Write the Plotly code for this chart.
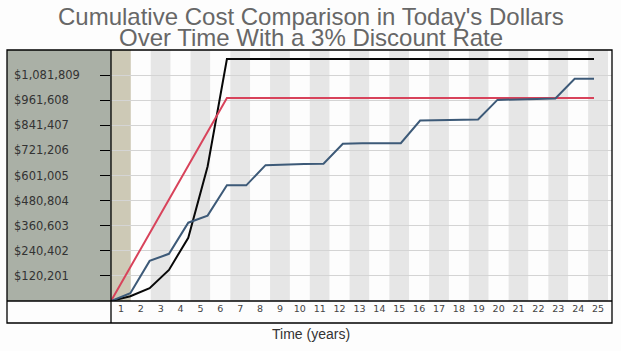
import plotly.graph_objects as go

# ---------------- data ----------------
years = [0, 1, 2, 3, 4, 5, 6, 7, 8, 9, 10, 11, 12, 13, 14, 15, 16, 17, 18, 19, 20, 21, 22, 23, 24, 25]

black_vals = [0, 23000, 61000, 149000, 303000, 644000, 1158700, 1158700, 1158700, 1158700,
              1158700, 1158700, 1158700, 1158700, 1158700, 1158700, 1158700, 1158700, 1158700,
              1158700, 1158700, 1158700, 1158700, 1158700, 1158700, 1158700]

red_vals = [0, 162000, 324000, 486000, 648000, 810000, 972000, 972000, 972000, 972000,
            972000, 972000, 972000, 972000, 972000, 972000, 972000, 972000, 972000,
            972000, 972000, 972000, 972000, 972000, 972000, 972000]

blue_vals = [0, 37000, 192000, 226000, 375000, 409000, 554000, 554000, 650500, 654000,
             656000, 657000, 753000, 755000, 756000, 756000, 864000, 864500, 865000,
             869000, 963000, 965000, 966000, 970000, 1064000, 1064000]

band_nums = [1, 2, 3, 4, 5, 6, 7, 8, 9, 10, 11, 12, 13, 14, 15, 16, 17, 18, 19, 20, 21, 22, 23, 24, 25]
band_labels = ["1", "2", "3", "4", "5", "6", "7", "8", "9", "10", "11", "12", "13",
               "14", "15", "16", "17", "18", "19", "20", "21", "22", "23", "24", "25"]

y_tick_vals = [120201, 240402, 360603, 480804, 601005, 721206, 841407, 961608, 1081809]
y_tick_text = ["$120,201", "$240,402", "$360,603", "$480,804", "$601,005",
               "$721,206", "$841,407", "$961,608", "$1,081,809"]
y_max = 1202010

title_lines = ["Cumulative Cost Comparison in Today's Dollars",
               "Over Time With a 3% Discount Rate"]
x_title = "Time (years)"

# ---------------- geometry (pixels) ----------------
W, H = 621, 351
PL, PR, PT, PB = 111, 612, 50, 301
BOX_L, BOX_B = 7, 323
pw, ph = PR - PL, PB - PT


def px_x(p):
    return (p - PL) / pw


def px_y(p):
    return (PB - p) / ph


TAN = "#cdc9b6"
GRAY = "#e6e6e6"
WHITE = "#fdfdfd"
PANEL = "#aab0a6"

fig = go.Figure()

# invisible trace anchoring the band (label) axis
fig.add_trace(go.Scatter(x=band_nums, y=[0] * len(band_nums), mode="none",
                         hoverinfo="skip", showlegend=False, xaxis="x", yaxis="y"))

fig.add_trace(go.Scatter(x=years, y=black_vals, mode="lines", xaxis="x2", yaxis="y",
                         line=dict(color="#080808", width=2), showlegend=False))
fig.add_trace(go.Scatter(x=years, y=red_vals, mode="lines", xaxis="x2", yaxis="y",
                         line=dict(color="#d8435b", width=2), showlegend=False))
fig.add_trace(go.Scatter(x=years, y=blue_vals, mode="lines", xaxis="x2", yaxis="y",
                         line=dict(color="#3d5a78", width=2), showlegend=False))

shapes = []
# alternating background bands
for i, n in enumerate(band_nums):
    if i == 0:
        col = TAN
    elif n % 2 == 0:
        col = WHITE
    else:
        col = GRAY
    shapes.append(dict(type="rect", xref="x", yref="y", x0=n - 0.5, x1=n + 0.5,
                       y0=0, y1=y_max * 1.01, fillcolor=col, line=dict(width=0),
                       layer="below"))

# left axis panel
shapes.append(dict(type="rect", xref="paper", yref="paper", x0=px_x(BOX_L), x1=0,
                   y0=0, y1=1, fillcolor=PANEL, line=dict(width=0), layer="below"))
# outer frame and dividers
shapes.append(dict(type="rect", xref="paper", yref="paper", x0=px_x(BOX_L), x1=1,
                   y0=px_y(BOX_B), y1=1, line=dict(color="black", width=1.3), layer="above"))
shapes.append(dict(type="line", xref="paper", yref="paper", x0=px_x(BOX_L), x1=1,
                   y0=0, y1=0, line=dict(color="black", width=1.3), layer="above"))
shapes.append(dict(type="line", xref="paper", yref="paper", x0=0, x1=0,
                   y0=px_y(BOX_B), y1=1, line=dict(color="black", width=1.3), layer="above"))

annotations = []
for v, t in zip(y_tick_vals, y_tick_text):
    annotations.append(dict(x=px_x(12), xref="paper", y=v, yref="y", text=t,
                            showarrow=False, xanchor="left", yanchor="middle",
                            font=dict(family="DejaVu Sans, Verdana", size=11.5, color="#333333")))

annotations.append(dict(x=px_x(310.5), xref="paper", y=px_y(17), yref="paper",
                        text=title_lines[0], showarrow=False, xanchor="center", yanchor="middle",
                        font=dict(family="Liberation Sans, Arial", size=24, color="#676767")))
annotations.append(dict(x=px_x(310.5), xref="paper", y=px_y(37.5), yref="paper",
                        text=title_lines[1], showarrow=False, xanchor="center", yanchor="middle",
                        font=dict(family="Liberation Sans, Arial", size=24, color="#676767")))
annotations.append(dict(x=px_x(310.5), xref="paper", y=px_y(334), yref="paper",
                        text=x_title, showarrow=False, xanchor="center", yanchor="middle",
                        font=dict(family="Liberation Sans, Arial", size=14, color="#333333")))

fig.update_layout(
    width=W, height=H,
    margin=dict(l=PL, r=W - PR, t=PT, b=H - PB, pad=0),
    paper_bgcolor="#fdfdfd",
    plot_bgcolor=WHITE,
    showlegend=False,
    shapes=shapes,
    annotations=annotations,
    xaxis=dict(range=[0.5, 0.5 + pw / 19.88], tickvals=band_nums, ticktext=band_labels,
               showgrid=False, zeroline=False, showline=False, ticks="",
               tickfont=dict(family="DejaVu Sans, Verdana", size=9.5, color="#444444"),
               fixedrange=True),
    xaxis2=dict(range=[0, 25 + (PR - 594) / 19.32], overlaying="x", visible=False,
                showgrid=False, zeroline=False, fixedrange=True),
    yaxis=dict(range=[0, y_max], tickvals=y_tick_vals, showticklabels=False,
               ticks="outside", ticklen=10, tickcolor="black", tickwidth=1,
               showgrid=True, gridcolor="#d4d4d4", gridwidth=1,
               zeroline=False, showline=False, fixedrange=True),
)

fig.write_html("out.html")
